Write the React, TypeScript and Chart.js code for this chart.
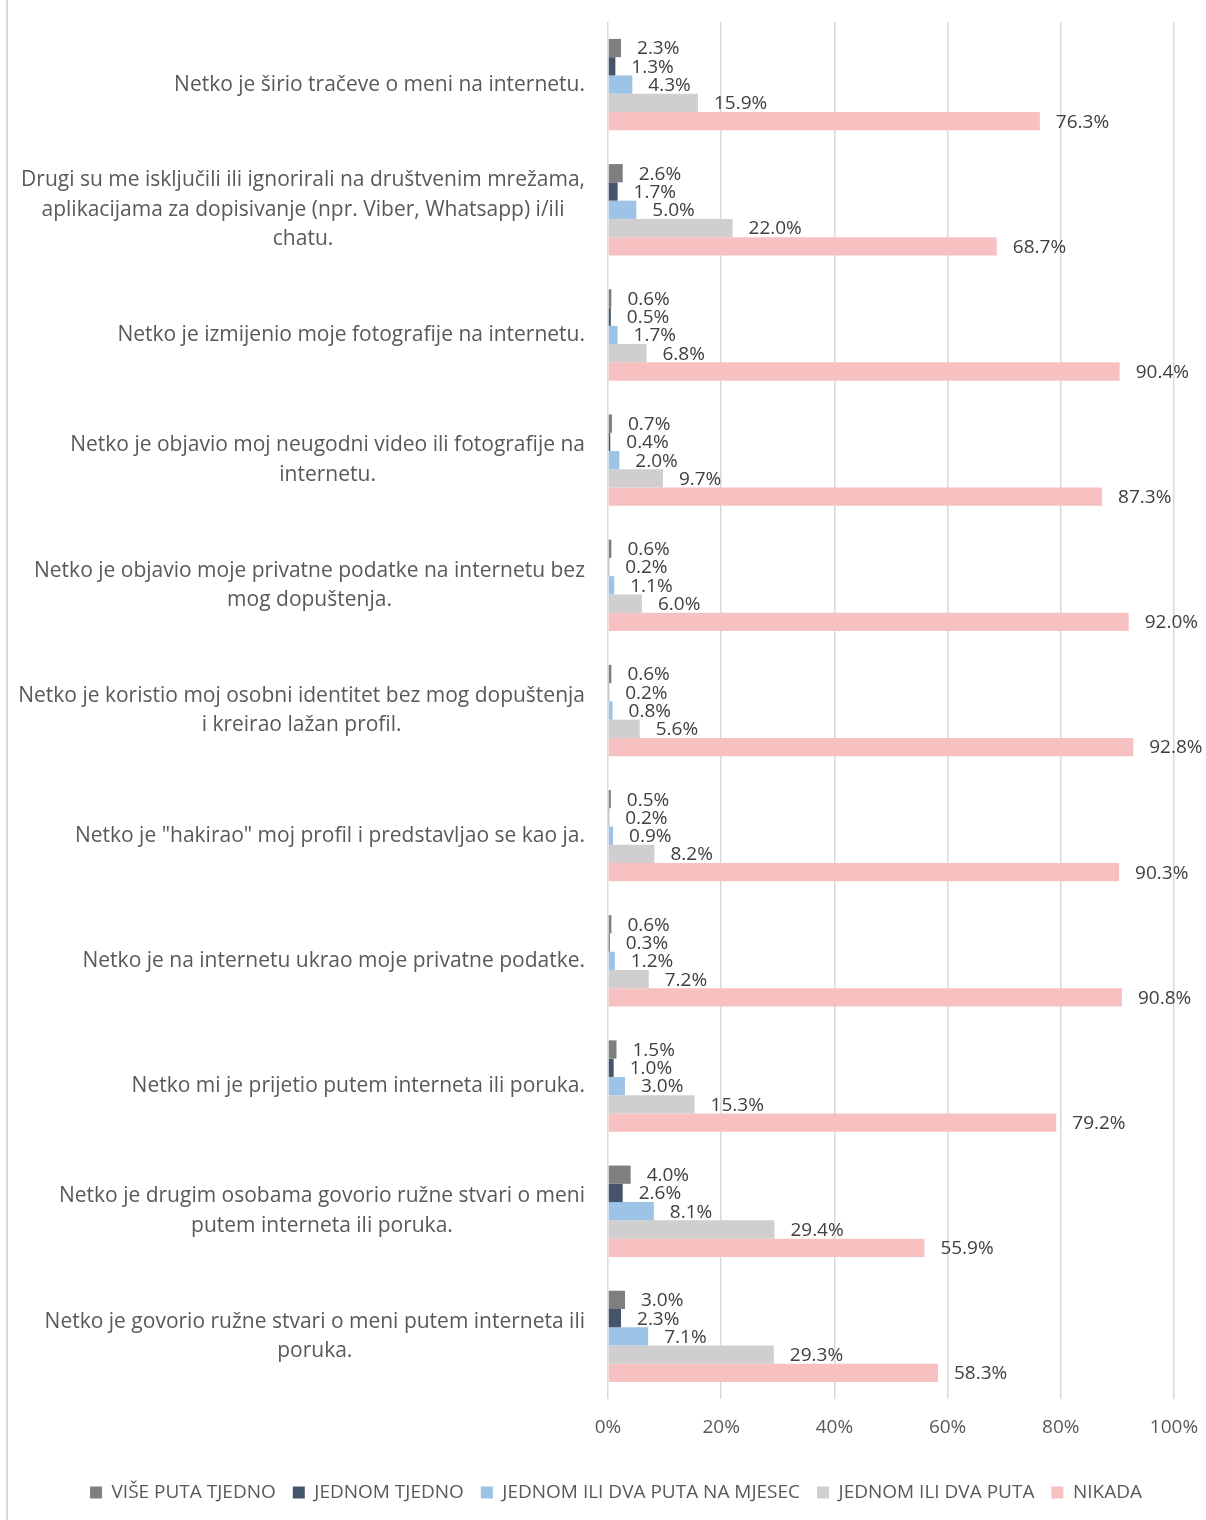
import React, { useEffect, useRef } from "react";
import { Chart, registerables } from "chart.js";

Chart.register(...registerables);

const categoryLines: string[][] = [
  ["Netko je širio tračeve o meni na internetu."],
  [
    "Drugi su me isključili ili ignorirali na društvenim mrežama,",
    "aplikacijama za dopisivanje (npr. Viber, Whatsapp) i/ili",
    "chatu.",
  ],
  ["Netko je izmijenio moje fotografije na internetu."],
  ["Netko je objavio moj neugodni video ili fotografije na", "internetu."],
  ["Netko je objavio moje privatne podatke na internetu bez", "mog dopuštenja."],
  ["Netko je koristio moj osobni identitet bez mog dopuštenja", "i kreirao lažan profil."],
  ['Netko je "hakirao" moj profil i predstavljao se kao ja.'],
  ["Netko je na internetu ukrao moje privatne podatke."],
  ["Netko mi je prijetio putem interneta ili poruka."],
  ["Netko je drugim osobama govorio ružne stvari o meni", "putem interneta ili poruka."],
  ["Netko je govorio ružne stvari o meni putem interneta ili", "poruka."],
];
const categories = categoryLines.map((l) => l.join(" "));

const seriesNames = [
  "VIŠE PUTA TJEDNO",
  "JEDNOM TJEDNO",
  "JEDNOM ILI DVA PUTA NA MJESEC",
  "JEDNOM ILI DVA PUTA",
  "NIKADA",
];
const visePutaTjedno = [2.3, 2.6, 0.6, 0.7, 0.6, 0.6, 0.5, 0.6, 1.5, 4.0, 3.0];
const jednomTjedno = [1.3, 1.7, 0.5, 0.4, 0.2, 0.2, 0.2, 0.3, 1.0, 2.6, 2.3];
const jednomIliDvaMjesec = [4.3, 5.0, 1.7, 2.0, 1.1, 0.8, 0.9, 1.2, 3.0, 8.1, 7.1];
const jednomIliDva = [15.9, 22.0, 6.8, 9.7, 6.0, 5.6, 8.2, 7.2, 15.3, 29.4, 29.3];
const nikada = [76.3, 68.7, 90.4, 87.3, 92.0, 92.8, 90.3, 90.8, 79.2, 55.9, 58.3];
const seriesColors = ["#7f7f7f", "#44546a", "#9dc3e6", "#d0cece", "#f7c1c1"];
const xTicks = [0, 20, 40, 60, 80, 100];

const FONT = "'Open Sans', 'DejaVu Sans', sans-serif";

const valueLabels = {
  id: "valueLabels",
  afterDatasetsDraw(chart: any) {
    const ctx = chart.ctx;
    ctx.save();
    ctx.font = `19px ${FONT}`;
    ctx.fillStyle = "#404040";
    ctx.textAlign = "left";
    ctx.textBaseline = "middle";
    chart.data.datasets.forEach((ds: any, i: number) => {
      const meta = chart.getDatasetMeta(i);
      meta.data.forEach((el: any, j: number) => {
        const v = ds.data[j];
        ctx.fillText(v.toFixed(1) + "%", el.x + 16, el.y + 1);
      });
    });
    ctx.restore();
  },
};

const categoryLabels = {
  id: "categoryLabels",
  afterDraw(chart: any) {
    const ctx = chart.ctx;
    const yScale = chart.scales.y;
    const right = chart.chartArea.left - 23;
    const lh = 29.5;
    ctx.save();
    ctx.font = `21px ${FONT}`;
    ctx.fillStyle = "#595959";
    ctx.textAlign = "center";
    ctx.textBaseline = "middle";
    categoryLines.forEach((lines, i) => {
      const cy = yScale.getPixelForValue(i);
      const w = Math.max(...lines.map((l) => ctx.measureText(l).width));
      const cx = right - w / 2;
      lines.forEach((line, k) => {
        ctx.fillText(line, cx, cy + (k - (lines.length - 1) / 2) * lh);
      });
    });
    ctx.restore();
  },
};

export default function App() {
  const ref = useRef<HTMLCanvasElement | null>(null);
  useEffect(() => {
    if (!ref.current) return;
    const seriesData = [visePutaTjedno, jednomTjedno, jednomIliDvaMjesec, jednomIliDva, nikada];
    const chart = new Chart(ref.current, {
      type: "bar",
      data: {
        labels: categories,
        datasets: seriesNames.map((name, i) => ({
          label: name,
          data: seriesData[i],
          backgroundColor: seriesColors[i],
          borderWidth: 0,
          barPercentage: 1,
          categoryPercentage: 0.73,
        })),
      },
      options: {
        indexAxis: "y",
        animation: false,
        responsive: false,
        devicePixelRatio: 1,
        layout: { padding: { left: 58, right: 32, top: 22, bottom: 8 } },
        plugins: {
          tooltip: { enabled: false },
          legend: {
            position: "bottom",
            labels: {
              boxWidth: 12,
              boxHeight: 12,
              padding: 17,
              color: "#595959",
              font: { family: FONT, size: 19 },
            },
          },
        },
        scales: {
          x: {
            min: 0,
            max: 100,
            afterFit: (s: any) => {
              s.height = 67;
              s.paddingLeft = 0;
              s.paddingRight = 0;
            },
            afterBuildTicks: (s: any) => {
              s.ticks = xTicks.map((v) => ({ value: v }));
            },
            grid: { color: "#d9d9d9", lineWidth: 1.5, drawTicks: false },
            border: { display: false },
            ticks: {
              padding: 17,
              color: "#595959",
              font: { family: FONT, size: 19 },
              callback: (v: any) => v + "%",
            },
          },
          y: {
            afterFit: (s: any) => {
              s.width = 550;
            },
            grid: { display: false, drawTicks: false },
            border: { display: false },
            ticks: { display: false },
          },
        },
      },
      plugins: [valueLabels, categoryLabels],
    } as any);
    return () => chart.destroy();
  }, []);
  return (
    <div style={{ position: "absolute", left: 0, top: 0, width: 1206, height: 1520, background: "#fff" }}>
      <div style={{ position: "absolute", left: 6, top: 0, width: 2, height: 1520, background: "#d9d9d9" }} />
      <canvas ref={ref} width={1206} height={1520} style={{ position: "absolute", left: 0, top: 0 }} />
    </div>
  );
}
